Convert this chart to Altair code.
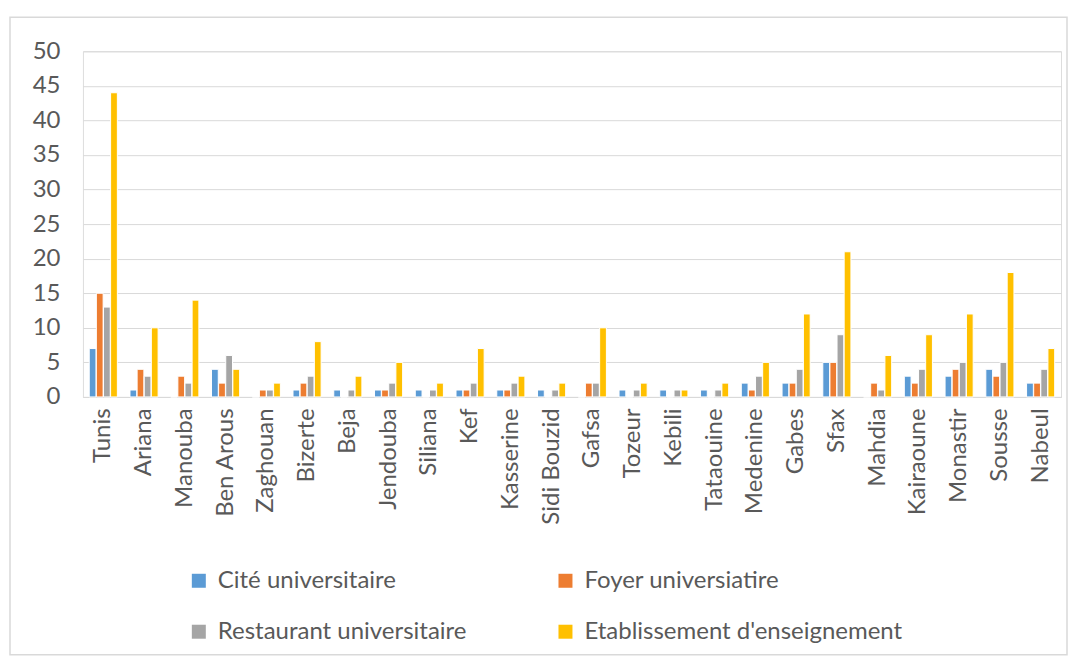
import altair as alt
import pandas as pd

regions = ["Tunis", "Ariana", "Manouba", "Ben Arous", "Zaghouan", "Bizerte", "Beja",
           "Jendouba", "Siliana", "Kef", "Kasserine", "Sidi Bouzid", "Gafsa", "Tozeur",
           "Kebili", "Tataouine", "Medenine", "Gabes", "Sfax", "Mahdia", "Kairaoune",
           "Monastir", "Sousse", "Nabeul"]
series = ["Cité universitaire", "Foyer universiatire", "Restaurant universitaire",
          "Etablissement d'enseignement"]
cite = [7, 1, 0, 4, 0, 1, 1, 1, 1, 1, 1, 1, 0, 1, 1, 1, 2, 2, 5, 0, 3, 3, 4, 2]
foyer = [15, 4, 3, 2, 1, 2, 0, 1, 0, 1, 1, 0, 2, 0, 0, 0, 1, 2, 5, 2, 2, 4, 3, 2]
restaurant = [13, 3, 2, 6, 1, 3, 1, 2, 1, 2, 2, 1, 2, 1, 1, 1, 3, 4, 9, 1, 4, 5, 5, 4]
etab = [44, 10, 14, 4, 2, 8, 3, 5, 2, 7, 3, 2, 10, 2, 1, 2, 5, 12, 21, 6, 9, 12, 18, 7]
colors = ["#5B9BD5", "#ED7D31", "#A5A5A5", "#FFC000"]
y_ticks = list(range(0, 55, 5))

rows = []
for name, vals in zip(series, [cite, foyer, restaurant, etab]):
    for r, v in zip(regions, vals):
        rows.append({"Region": r, "Type": name, "Value": v})
df = pd.DataFrame(rows)

# legend is laid out column by column: order so rows read Cité/Foyer, Restaurant/Etab
legend_order = [series[0], series[2], series[1], series[3]]
legend_colors = [colors[0], colors[2], colors[1], colors[3]]

FONT = "Lato"
TXT = "#595959"

bars = alt.Chart(df).mark_bar(stroke="white", strokeWidth=1).encode(
    x=alt.X("Region:N", sort=regions, title=None,
            scale=alt.Scale(paddingInner=0.31, paddingOuter=0.155),
            axis=alt.Axis(labelAngle=-90, labelFontSize=24, labelColor=TXT, labelFont=FONT,
                          ticks=False, domainColor="#d9d9d9", labelPadding=11)),
    xOffset=alt.XOffset("Type:N", sort=series, scale=alt.Scale(paddingInner=0.05)),
    y=alt.Y("Value:Q", title=None,
            scale=alt.Scale(domain=[0, 50], nice=False),
            axis=alt.Axis(values=y_ticks, labelFontSize=24, labelColor=TXT, labelFont=FONT,
                          ticks=False, domain=False, gridColor="#d9d9d9", labelPadding=23)),
    color=alt.Color("Type:N", title=None,
                    scale=alt.Scale(domain=legend_order, range=legend_colors),
                    legend=alt.Legend(orient="none", legendX=104, legendY=518, columns=2,
                                      symbolType="square", symbolSize=196, symbolStrokeWidth=0,
                                      labelFontSize=24, labelFont=FONT, labelColor=TXT,
                                      columnPadding=87, rowPadding=27, labelLimit=500,
                                      labelOffset=7)),
)

frame = alt.Chart(alt.Data(values=[{}])).mark_rect(
    fill="white", fillOpacity=0, stroke="#d9d9d9", strokeWidth=1.5, clip=False
).encode(x=alt.value(-73), x2=alt.value(985), y=alt.value(-34), y2=alt.value(604))

chart = alt.layer(frame, bars).properties(
    width=979, height=346,
    autosize=alt.AutoSizeParams(type="none"),
    padding={"left": 75, "top": 43, "right": 10, "bottom": 262},
).configure_view(strokeWidth=0).configure(background="white")

chart.save("out.html", embed_options={"renderer": "svg", "actions": False})
